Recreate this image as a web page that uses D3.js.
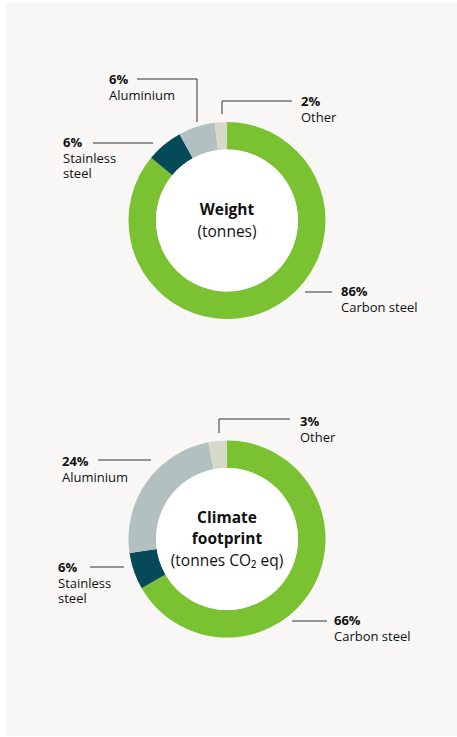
<!DOCTYPE html>
<html><head><meta charset="utf-8">
<script src="https://cdn.jsdelivr.net/npm/d3@7"></script>
<style>
html,body{margin:0;padding:0;background:#fff;}
svg{display:block;font-family:"Open Sans","Noto Sans",sans-serif;}
</style></head>
<body>
<script>
const categories = ["Carbon steel","Stainless steel","Aluminium","Other"];
const colors = ["#7ac231","#064a5a","#b3c0c0","#d8d8c8"];
const weightValues = [86,6,6,2];
const climateValues = [66,6,24,3];
const weightLabels = ["86%","6%","6%","2%"];
const climateLabels = ["66%","6%","24%","3%"];

const W=457,H=737;
const svg=d3.select("body").append("svg").attr("width",W).attr("height",H);
svg.append("rect").attr("x",6).attr("y",3).attr("width",W-6).attr("height",733).attr("fill","#f8f7f5");

const color=d3.scaleOrdinal().domain(categories).range(colors);
const pie=d3.pie().sort(null).value(d=>d.v);
const arc=d3.arc().innerRadius(71).outerRadius(98.5);

function donut(cx,cy,values,labels,title,annots){
  const g=svg.append("g").attr("transform",`translate(${cx},${cy})`);
  const data=categories.map((c,i)=>({c,v:values[i],l:labels[i]}));
  g.selectAll("path").data(pie(data)).join("path").attr("d",arc).attr("fill",d=>color(d.data.c));
  g.append("circle").attr("r",71).attr("fill","#fff");
  const t=g.append("text").attr("text-anchor","middle").attr("fill","#111").style("font-size","15.5px");
  title.forEach((line,i)=>{
    t.append("tspan").attr("x",0).attr("y",line.y).style("font-weight",line.b?"700":"400").text(line.t);
  });
  annots.forEach(a=>{
    const d=data.find(x=>x.c===a.cat);
    svg.append("path").attr("d",a.path).attr("fill","none").attr("stroke","#333").attr("stroke-width",1);
    const tx=svg.append("text").attr("fill","#111").style("font-size","13px");
    tx.append("tspan").attr("x",a.x).attr("y",a.y).style("font-weight","700").text(d.l);
    a.lines.forEach((ln,i)=>tx.append("tspan").attr("x",a.x).attr("y",a.y+15.5*(i+1)).text(ln));
  });
}

donut(227,220.5,weightValues,weightLabels,
  [{t:"Weight",b:true,y:-6},{t:"(tonnes)",b:false,y:16}],
  [
    {cat:"Aluminium",path:"M137,79H197V122",x:109,y:84,lines:["Aluminium"]},
    {cat:"Other",path:"M292,101H222V114",x:301,y:106,lines:["Other"]},
    {cat:"Stainless steel",path:"M93,143H153",x:63,y:147,lines:["Stainless","steel"]},
    {cat:"Carbon steel",path:"M305,292H332",x:341,y:296,lines:["Carbon steel"]}
  ]);

donut(227,539,climateValues,climateLabels,
  [{t:"Climate",b:true,y:-16},{t:"footprint",b:true,y:5},{t:"(tonnes CO\u2082 eq)",b:false,y:27}],
  [
    {cat:"Aluminium",path:"M98,460H151",x:62,y:466,lines:["Aluminium"]},
    {cat:"Other",path:"M290,419H219V433",x:300,y:426,lines:["Other"]},
    {cat:"Stainless steel",path:"M90,567H124",x:58,y:572,lines:["Stainless","steel"]},
    {cat:"Carbon steel",path:"M292,621H327",x:334,y:625,lines:["Carbon steel"]}
  ]);
</script>
</body></html>
